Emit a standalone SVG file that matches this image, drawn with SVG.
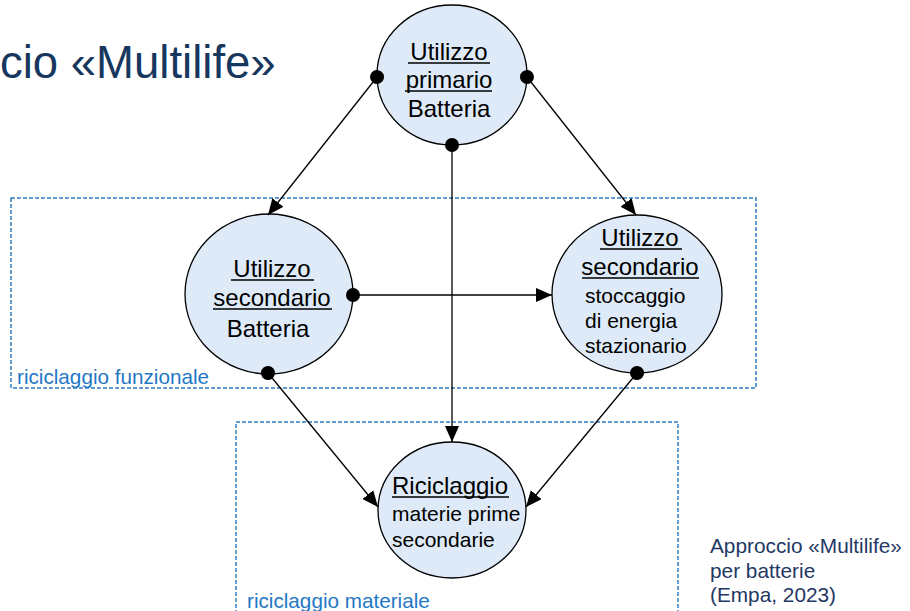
<svg xmlns="http://www.w3.org/2000/svg" width="910" height="611" viewBox="0 0 910 611">
  <defs>
    <style>
      .title { font-family: "Liberation Sans", Arial, sans-serif; font-size: 45.5px; fill: #17375e; }
      .caption { font-family: "Liberation Sans", Arial, sans-serif; font-size: 20.8px; fill: #1f3864; }
      .zone { fill: none; stroke: #2f7cc4; stroke-width: 1.5; stroke-dasharray: 4 2; }
      .zone-label { font-family: "Liberation Sans", Arial, sans-serif; font-size: 20.7px; fill: #1f78c4; }
      .node { fill: #deeaf7; stroke: #000; stroke-width: 1.3; }
      .head { font-family: "Liberation Sans", Arial, sans-serif; font-size: 24px; fill: #000; }
      .sub { font-family: "Liberation Sans", Arial, sans-serif; font-size: 21px; fill: #000; }
      .ul { stroke: #000; stroke-width: 1.3; }
      .edge { stroke: #000; stroke-width: 1.3; fill: none; marker-start: url(#dot); marker-end: url(#arrow); }
    </style>
    <marker id="arrow" markerUnits="userSpaceOnUse" markerWidth="18" markerHeight="16" refX="16" refY="7" orient="auto">
      <path d="M0,0 L16,7 L0,14 z" fill="#000"/>
    </marker>
    <marker id="dot" markerUnits="userSpaceOnUse" markerWidth="16" markerHeight="16" refX="8" refY="8" orient="auto">
      <circle cx="8" cy="8" r="7" fill="#000"/>
    </marker>
  </defs>

  <rect width="910" height="611" fill="#fff"/>

  <!-- heading -->
  <text class="title" x="0" y="78">cio «Multilife»</text>

  <!-- recycling zones -->
  <g id="zone-funzionale">
    <rect class="zone" x="11" y="198" width="745" height="190"/>
    <text class="zone-label" x="17" y="384">riciclaggio funzionale</text>
  </g>
  <g id="zone-materiale">
    <rect class="zone" x="236" y="422" width="442" height="200"/>
    <text class="zone-label" x="247" y="608">riciclaggio materiale</text>
  </g>

  <!-- nodes -->
  <g id="primario">
    <ellipse class="node" cx="452" cy="75" rx="75" ry="70"/>
    <text class="head" x="449" y="60" text-anchor="middle">Utilizzo </text>
    <line class="ul" x1="408" y1="63" x2="490" y2="63"/>
    <text class="head" x="449" y="88" text-anchor="middle">primario</text>
    <line class="ul" x1="405" y1="91" x2="492" y2="91"/>
    <text class="head" x="449" y="117" text-anchor="middle">Batteria</text>
  </g>

  <g id="secondario-batteria">
    <ellipse class="node" cx="269" cy="294" rx="84" ry="80"/>
    <text class="head" x="272" y="277" text-anchor="middle">Utilizzo </text>
    <line class="ul" x1="231" y1="280" x2="314" y2="280"/>
    <text class="head" x="272" y="306" text-anchor="middle">secondario</text>
    <line class="ul" x1="213" y1="309" x2="332" y2="309"/>
    <text class="head" x="268" y="337" text-anchor="middle">Batteria</text>
  </g>

  <g id="secondario-stoccaggio">
    <ellipse class="node" cx="637" cy="294" rx="85" ry="79"/>
    <text class="head" x="640" y="246" text-anchor="middle">Utilizzo </text>
    <line class="ul" x1="600" y1="249" x2="682" y2="249"/>
    <text class="head" x="640" y="275" text-anchor="middle">secondario</text>
    <line class="ul" x1="582" y1="278" x2="699" y2="278"/>
    <text class="sub" x="585" y="303">stoccaggio</text>
    <text class="sub" x="585" y="328">di energia</text>
    <text class="sub" x="585" y="353">stazionario</text>
  </g>

  <g id="riciclaggio">
    <ellipse class="node" cx="452" cy="510" rx="74" ry="68"/>
    <text class="head" x="392" y="494">Riciclaggio</text>
    <line class="ul" x1="392" y1="497" x2="509" y2="497"/>
    <text class="sub" x="392" y="521">materie prime</text>
    <text class="sub" x="392" y="547">secondarie</text>
  </g>

  <!-- connectors -->
  <g id="connectors">
    <line class="edge" x1="377" y1="77" x2="268" y2="215"/>
    <line class="edge" x1="527" y1="77" x2="636" y2="215"/>
    <line class="edge" x1="452" y1="145" x2="452" y2="442"/>
    <line class="edge" x1="353" y1="295" x2="552" y2="295"/>
    <line class="edge" x1="268" y1="373" x2="378" y2="507"/>
    <line class="edge" x1="637" y1="373" x2="526" y2="507"/>
  </g>

  <!-- caption -->
  <text class="caption" x="710" y="553">Approccio «Multilife»</text>
  <text class="caption" x="710" y="578">per batterie</text>
  <text class="caption" x="710" y="602">(Empa, 2023)</text>
</svg>
